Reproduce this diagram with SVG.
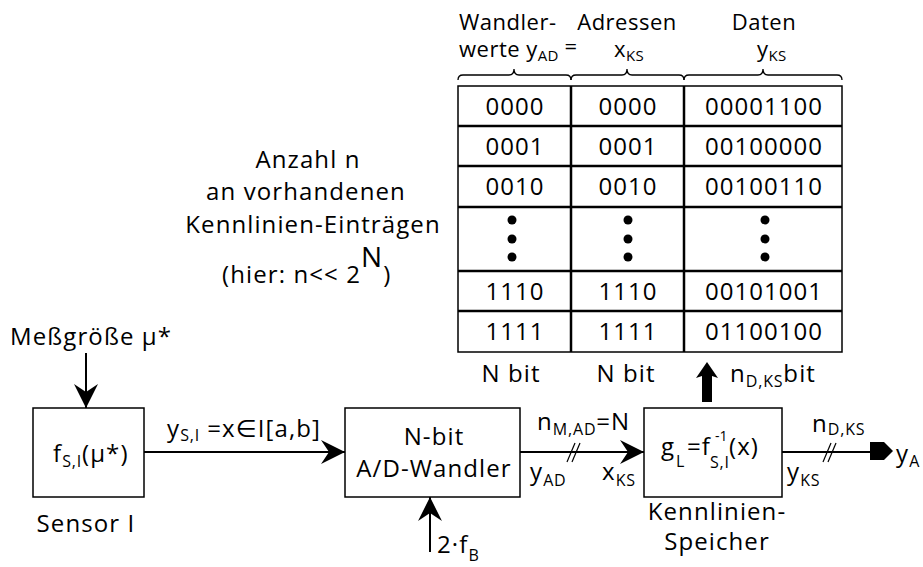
<svg xmlns="http://www.w3.org/2000/svg" width="923" height="567" viewBox="0 0 923 567">
<style>
text{font-family:"Open Sans","Noto Sans","DejaVu Sans",sans-serif;fill:#000}
.t{font-size:24px;letter-spacing:1.1px}
.h{font-size:22px;letter-spacing:0.5px}
.c{text-anchor:middle}
.d{font-size:24px;letter-spacing:1px;text-anchor:middle}
.s{font-size:16px;letter-spacing:0.8px}
.hs{font-size:15px;letter-spacing:0.3px}
.box{fill:#fff;stroke:#000;stroke-width:1.5}
.grid{stroke:#000;stroke-width:2.5;fill:none}
.ln{stroke:#000;stroke-width:2;fill:none}
.br{stroke:#000;stroke-width:1.3;fill:none}
.tk{stroke:#000;stroke-width:1.2}
</style>
<defs>
<marker id="a" markerUnits="userSpaceOnUse" markerWidth="24" markerHeight="24" refX="24" refY="12" orient="auto" viewBox="0 0 24 24">
<path d="M0,0 L24,12 L0,24 L8,12 Z" fill="#000"/>
</marker>
</defs>

<g id="header">
<text class="h" x="459" y="30">Wandler-</text>
<text class="h" x="459" y="57">werte y<tspan class="hs" dy="4">AD</tspan></text>
<text class="h" x="571" y="54" text-anchor="middle">=</text>
<text class="h c" x="627" y="30">Adressen</text>
<text class="h" x="614" y="57">x<tspan class="hs" dy="4">KS</tspan></text>
<text class="h c" x="764" y="30">Daten</text>
<text class="h" x="757" y="57">y<tspan class="hs" dy="4">KS</tspan></text>
<path class="br" d="M458,80 Q458,75 463,75 L509,75 Q514,75 514,69 Q514,75 519,75 L566,75 Q571,75 571,80"/>
<path class="br" d="M571,80 Q571,75 576,75 L622,75 Q627,75 627,69 Q627,75 632,75 L679,75 Q684,75 684,80"/>
<path class="br" d="M684,80 Q684,75 689,75 L758,75 Q763,75 763,69 Q763,75 768,75 L837,75 Q842,75 842,80"/>
</g>

<g id="table">
<rect x="458" y="86" width="384" height="266" fill="#fff" stroke="#000" stroke-width="1.5"/>
<path class="grid" d="M458,126H842M458,166H842M458,207H842M458,271H842M458,311H842M571,86V352M684,86V352"/>
<text class="d" x="515" y="115">0000</text>
<text class="d" x="628" y="115">0000</text>
<text class="d" x="764" y="115">00001100</text>
<text class="d" x="515" y="155">0001</text>
<text class="d" x="628" y="155">0001</text>
<text class="d" x="764" y="155">00100000</text>
<text class="d" x="515" y="195">0010</text>
<text class="d" x="628" y="195">0010</text>
<text class="d" x="764" y="195">00100110</text>
<g fill="#000">
<circle cx="512" cy="220" r="4.5"/><circle cx="512" cy="239" r="4.5"/><circle cx="512" cy="257" r="4.5"/>
<circle cx="628" cy="220" r="4.5"/><circle cx="628" cy="239" r="4.5"/><circle cx="628" cy="257" r="4.5"/>
<circle cx="765" cy="220" r="4.5"/><circle cx="765" cy="239" r="4.5"/><circle cx="765" cy="257" r="4.5"/>
</g>
<text class="d" x="515" y="300">1110</text>
<text class="d" x="628" y="300">1110</text>
<text class="d" x="764" y="300">00101001</text>
<text class="d" x="515" y="340">1111</text>
<text class="d" x="628" y="340">1111</text>
<text class="d" x="764" y="340">01100100</text>
<text class="t c" x="511" y="382">N bit</text>
<text class="t c" x="626" y="382">N bit</text>
</g>

<g id="anzahl">
<text class="t c" x="308" y="168">Anzahl n</text>
<text class="t c" x="306" y="200">an vorhandenen</text>
<text class="t c" x="313" y="233">Kennlinien-Einträgen</text>
<text class="t" x="222" y="283">(hier: n&lt;&lt; 2<tspan style="font-size:28px" dy="-16">N</tspan><tspan dy="16">)</tspan></text>
</g>

<g id="sensor">
<rect class="box" x="33" y="408" width="111" height="89"/>
<text class="t" x="53" y="462">f<tspan class="s" dy="5">S,I</tspan><tspan dy="-5">(μ*)</tspan></text>
<text class="t c" x="86" y="532">Sensor I</text>
</g>

<g id="adc">
<rect class="box" x="345" y="408" width="175" height="89"/>
<text class="t c" x="434" y="445">N-bit</text>
<text class="t c" x="434" y="477">A/D-Wandler</text>
</g>

<g id="ks">
<rect class="box" x="644" y="408" width="138" height="89"/>
<text class="t" x="661" y="455">g</text>
<text class="s" x="676" y="467">L</text>
<text class="t" x="687" y="455">=f</text>
<text style="font-size:14px" x="715" y="441">-1</text>
<text class="s" x="710" y="468">S,I</text>
<text class="t" x="729" y="455">(x)</text>
<text class="t c" x="717" y="520">Kennlinien-</text>
<text class="t c" x="717" y="550">Speicher</text>
</g>

<g id="labels">
<text class="t" x="10" y="345">Meßgröße μ*</text>
<text class="t" x="167" y="437">y<tspan class="s" dy="4">S,I</tspan><tspan dy="-4"> =x∈I[a,b]</tspan></text>
<text class="t" x="537" y="430">n<tspan class="s" dy="5">M,AD</tspan><tspan dy="-5">=N</tspan></text>
<text class="t" x="530" y="480">y<tspan class="s" dy="6">AD</tspan></text>
<text class="t" x="602" y="480">x<tspan class="s" dy="6">KS</tspan></text>
<text class="t" x="437" y="553">2·f<tspan class="s" dy="8">B</tspan></text>
<text class="t" x="730" y="382">n<tspan class="s" dy="5">D,KS</tspan><tspan dy="-5">bit</tspan></text>
<text class="t" x="812" y="432">n<tspan class="s" dy="3">D,KS</tspan></text>
<text class="t" x="787" y="480">y<tspan class="s" dy="6">KS</tspan></text>
<text class="t" x="896" y="462">y<tspan class="s" dy="5">A</tspan></text>
</g>

<g id="connectors">
<line class="ln" x1="86" y1="353" x2="86" y2="408" marker-end="url(#a)"/>
<line class="ln" x1="144" y1="452" x2="345" y2="452" marker-end="url(#a)"/>
<line class="ln" x1="520" y1="452" x2="644" y2="452" marker-end="url(#a)"/>
<line class="ln" x1="430" y1="552" x2="430" y2="497" marker-end="url(#a)"/>
<line class="ln" x1="782" y1="452" x2="871" y2="452"/>
<polygon points="870,442 884,442 893,451 884,460 870,460" fill="#000"/>
<polygon points="702,402 712,402 712,376 718,378 707,362 696,378 702,376" fill="#000"/>
<line class="tk" x1="567" y1="462" x2="575" y2="443"/>
<line class="tk" x1="572" y1="462" x2="580" y2="443"/>
<line class="tk" x1="823" y1="462" x2="831" y2="443"/>
<line class="tk" x1="828" y1="462" x2="836" y2="443"/>
</g>
</svg>
